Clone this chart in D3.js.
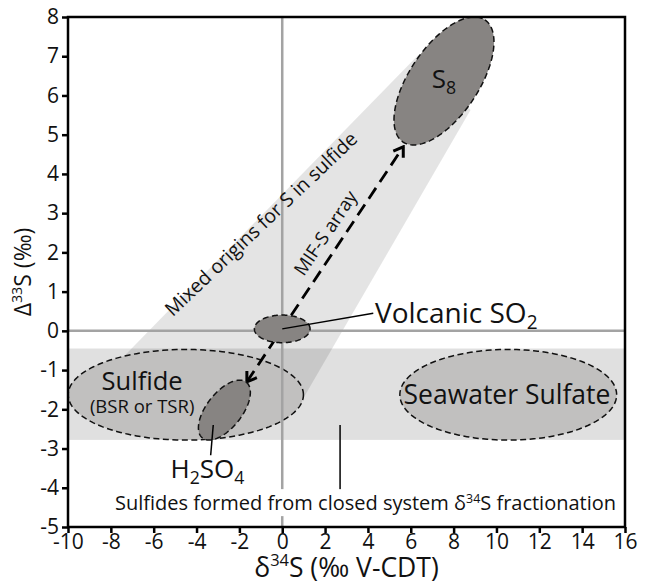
<!DOCTYPE html>
<html><head><meta charset="utf-8">
<script src="https://cdn.jsdelivr.net/npm/d3@7"></script>
<style>
body{margin:0;background:#fff}
svg{display:block;font-family:"Open Sans",sans-serif}
</style>
</head><body>
<svg id="chart" width="646" height="584"></svg>
<script>
// ---------- data ----------
const xDomain = [-10, 16];
const yDomain = [-5, 8];
const xTicks = [-10, -8, -6, -4, -2, 0, 2, 4, 6, 8, 10, 12, 14, 16];
const yTicks = [-5, -4, -3, -2, -1, 0, 1, 2, 3, 4, 5, 6, 7, 8];
const xTickLabels = ["-10","-8","-6","-4","-2","0","2","4","6","8","10","12","14","16"];
const yTickLabels = ["-5","-4","-3","-2","-1","0","1","2","3","4","5","6","7","8"];

// closed-system fractionation band (Δ33S range)
const bandTop = -0.45;
const bandBottom = -2.78;

// mixed-origin wedge polygon (δ34S, Δ33S)
const wedgeX = [-9.38, 6.35, 8.79, 0.89];
const wedgeY = [-1.76, 7.03, 5.63, -1.81];

// reservoirs: centre and two semi-axis vectors (data units)
const regionNames = ["Sulfide", "Seawater Sulfate", "Volcanic SO2", "H2SO4", "S8"];
const regionCx = [-4.50, 10.55, 0.00, -2.70, 7.55];
const regionCy = [-1.63, -1.63, 0.05, -2.02, 6.37];
const regionAxisA = [[5.49, 0], [5.06, 0], [1.30, 0], [1.024, 0.711], [1.909, 1.557]];
const regionAxisB = [[0, 1.155], [0, 1.155], [0, 0.352], [0.649, -0.279], [1.342, -0.490]];
const regionTone = ["light", "light", "dark", "dark", "dark"];

// MIF-S array arrow (both ends)
const arrowFrom = [-1.65, -1.30];
const arrowTo = [5.65, 4.69];

// leader lines [x1,y1,x2,y2]
const leaderSO2 = [0.0, 0.05, 4.25, 0.45];
const leaderH2SO4 = [-3.22, -2.40, -3.34, -3.17];
const leaderClosed = [2.70, -2.40, 2.70, -4.06];

// ---------- layout ----------
const svg = d3.select("#chart");
const M = {left: 68, top: 17, right: 625, bottom: 527};
const x = d3.scaleLinear().domain(xDomain).range([M.left, M.right]);
const y = d3.scaleLinear().domain(yDomain).range([M.bottom, M.top]);

const LIGHT = "#c1c0bf", DARK = "#878482";

// band
svg.append("rect")
  .attr("x", x(xDomain[0])).attr("width", x(xDomain[1]) - x(xDomain[0]))
  .attr("y", y(bandTop)).attr("height", y(bandBottom) - y(bandTop))
  .attr("fill", "#000").attr("fill-opacity", 0.12);

// wedge
svg.append("path")
  .datum(wedgeX.map((d, i) => [d, wedgeY[i]]))
  .attr("d", d3.line().x(d => x(d[0])).y(d => y(d[1])).curve(d3.curveLinearClosed))
  .attr("fill", "#000").attr("fill-opacity", 0.105);

function ellipsePts(i) {
  const n = 160, pts = [];
  for (let k = 0; k < n; k++) {
    const t = 2 * Math.PI * k / n;
    pts.push([
      regionCx[i] + regionAxisA[i][0] * Math.cos(t) + regionAxisB[i][0] * Math.sin(t),
      regionCy[i] + regionAxisA[i][1] * Math.cos(t) + regionAxisB[i][1] * Math.sin(t)
    ]);
  }
  return pts;
}
const eLine = d3.line().x(d => x(d[0])).y(d => y(d[1])).curve(d3.curveLinearClosed);
function drawRegion(i) {
  svg.append("path").datum(ellipsePts(i)).attr("d", eLine)
    .attr("fill", regionTone[i] === "light" ? LIGHT : DARK)
    .attr("stroke", "#111").attr("stroke-width", 1.5)
    .attr("stroke-dasharray", "6,3.5");
}
drawRegion(0); drawRegion(1);

// zero lines
svg.append("line").attr("x1", x(0)).attr("x2", x(0)).attr("y1", y(yDomain[1])).attr("y2", y(yDomain[0]))
  .attr("stroke", "#a3a3a3").attr("stroke-width", 2.5);
svg.append("line").attr("x1", x(xDomain[0])).attr("x2", x(xDomain[1])).attr("y1", y(0)).attr("y2", y(0))
  .attr("stroke", "#a3a3a3").attr("stroke-width", 2.5);

// arrow marker
const defs = svg.append("defs");
defs.append("marker").attr("id", "ah").attr("viewBox", "-12 -8 14 16")
  .attr("refX", 0).attr("refY", 0).attr("markerWidth", 14).attr("markerHeight", 16)
  .attr("markerUnits", "userSpaceOnUse").attr("orient", "auto-start-reverse")
  .append("path").attr("d", "M-9,-6 L0,0 L-9,6").attr("fill", "none")
  .attr("stroke", "#000").attr("stroke-width", 3).attr("stroke-linejoin", "miter");

svg.append("line")
  .attr("x1", x(arrowFrom[0])).attr("y1", y(arrowFrom[1]))
  .attr("x2", x(arrowTo[0])).attr("y2", y(arrowTo[1]))
  .attr("stroke", "#000").attr("stroke-width", 2.8).attr("stroke-dasharray", "13,7")
  .attr("marker-start", "url(#ah)").attr("marker-end", "url(#ah)");

drawRegion(2); drawRegion(3); drawRegion(4);

// leader lines
[leaderSO2, leaderH2SO4, leaderClosed].forEach(l => {
  svg.append("line").attr("x1", x(l[0])).attr("y1", y(l[1])).attr("x2", x(l[2])).attr("y2", y(l[3]))
    .attr("stroke", "#000").attr("stroke-width", 1.5);
});

// text helper
function richText(g, parts, size) {
  const t = g.append("text").attr("font-size", size).attr("fill", "#111");
  parts.forEach(p => {
    const ts = t.append("tspan").text(p[0]);
    if (p[1] === "sup") ts.attr("font-size", size * 0.62).attr("dy", -size * 0.38);
    else if (p[1] === "sub") ts.attr("font-size", size * 0.68).attr("dy", size * 0.2);
    else if (p[1] === "back") ts.attr("dy", size * 0.38);
    else if (p[1] === "backsub") ts.attr("dy", -size * 0.2);
  });
  return t;
}

// labels
richText(svg, [["S"], ["8", "sub"]], 26).attr("x", x(7.55)).attr("y", y(6.18)).attr("text-anchor", "middle");
richText(svg, [["Volcanic SO"], ["2", "sub"]], 28).attr("x", x(4.33)).attr("y", y(0.19));
richText(svg, [["Sulfide"]], 25.5).attr("x", x(-6.54)).attr("y", y(-1.51)).attr("text-anchor", "middle");
richText(svg, [["(BSR or TSR)"]], 18.5).attr("x", x(-6.54)).attr("y", y(-2.10)).attr("text-anchor", "middle");
richText(svg, [["Seawater Sulfate"]], 26.5).attr("x", x(10.49)).attr("y", y(-1.87)).attr("text-anchor", "middle");
richText(svg, [["H"], ["2", "sub"], ["SO", "backsub"], ["4", "sub"]], 26).attr("x", x(-3.49)).attr("y", y(-3.76)).attr("text-anchor", "middle");

const closed = richText(svg, [["Sulfides formed from closed system δ"], ["34", "sup"], ["S fractionation", "back"]], 20)
  .attr("x", x(3.89)).attr("y", y(-4.57)).attr("text-anchor", "middle");
const bb = closed.node().getBBox();
svg.insert("rect", "text").attr("x", bb.x - 2).attr("y", bb.y).attr("width", bb.width + 4).attr("height", bb.height)
  .attr("fill", "#fff");

richText(svg, [["Mixed origins for S in sulfide"]], 19.5)
  .attr("text-anchor", "middle")
  .attr("transform", `translate(${x(-0.77)},${y(2.60)}) rotate(-43.5)`);
richText(svg, [["MIF-S array"]], 18.5)
  .attr("text-anchor", "middle")
  .attr("transform", `translate(${x(2.27)},${y(2.40)}) rotate(-56)`);

// frame
svg.append("rect").attr("x", M.left).attr("y", M.top).attr("width", M.right - M.left).attr("height", M.bottom - M.top)
  .attr("fill", "none").attr("stroke", "#000").attr("stroke-width", 2.5);

// axes
const xAxis = d3.axisBottom(x).tickValues(xTicks).tickFormat((d, i) => xTickLabels[i]).tickSize(6).tickPadding(1);
const yAxis = d3.axisLeft(y).tickValues(yTicks).tickFormat((d, i) => yTickLabels[i]).tickSize(6).tickPadding(3);
const gx = svg.append("g").attr("transform", `translate(0,${M.bottom})`).call(xAxis);
const gy = svg.append("g").attr("transform", `translate(${M.left},0)`).call(yAxis);
[gx, gy].forEach(g => {
  g.select(".domain").remove();
  g.selectAll(".tick line").attr("stroke", "#000").attr("stroke-width", 2.5);
  g.selectAll(".tick text").attr("font-size", 21).attr("fill", "#111").attr("font-family", "'Open Sans',sans-serif");
});

// axis titles
richText(svg, [["δ"], ["34", "sup"], ["S (‰ V-CDT)", "back"]], 26.5)
  .attr("x", (M.left + M.right) / 2).attr("y", 576.5).attr("text-anchor", "middle");
richText(svg, [["Δ"], ["33", "sup"], ["S (‰)", "back"]], 23)
  .attr("text-anchor", "middle")
  .attr("transform", `translate(31,${(M.top + M.bottom) / 2}) rotate(-90)`);
</script>
</body></html>
